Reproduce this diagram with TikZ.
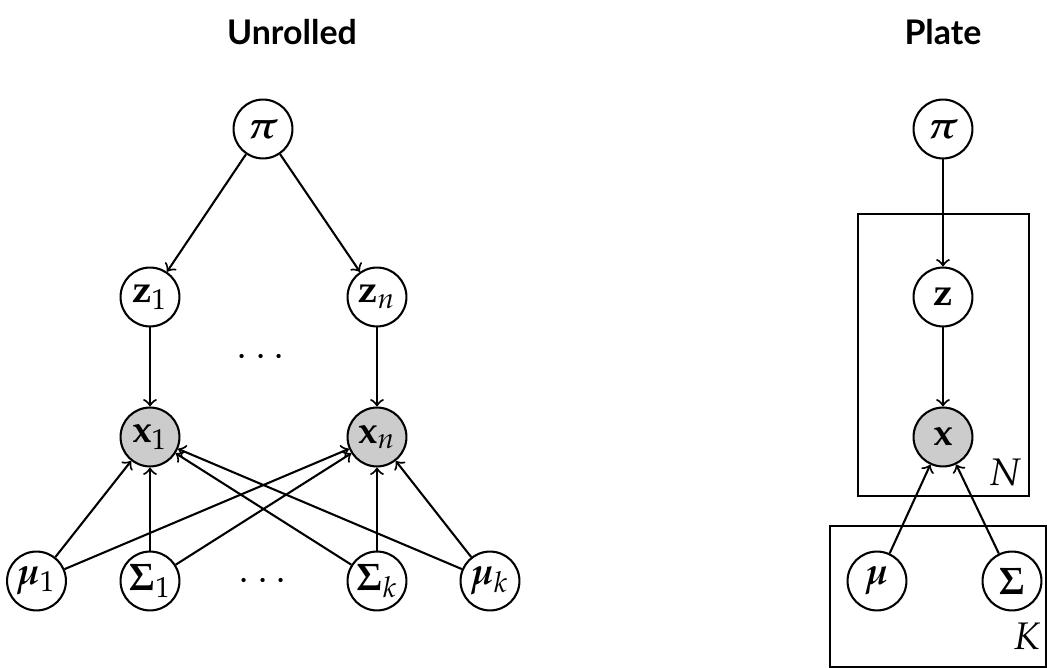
\documentclass[tikz,border=0pt]{standalone}
\usepackage{mathpazo}
\usepackage{bm}
\usepackage[no-math]{fontspec}
\newfontfamily\titlefont{Lato}
\usetikzlibrary{arrows}
\tikzset{
  rv/.style={circle,draw,line width=0.65pt,minimum size=18.4pt,inner sep=0pt,font=\large},
  obs/.style={rv,fill=black!20},
  edge/.style={->,>=to,line width=0.65pt},
  platebox/.style={draw,line width=0.65pt},
  ttl/.style={font=\fontsize{10.6}{12}\titlefont\bfseries,anchor=base},
  lbl/.style={font=\large}
}
\begin{document}
\begin{tikzpicture}[x=0.3125pt,y=-0.3125pt]
\useasboundingbox (0,0) rectangle (1047,668);
% titles
\node[ttl] (t1) at (292,45) {Unrolled};
\node[ttl] (t2) at (943,45) {Plate};
% unrolled
\node[rv] (pi) at (263,129) {$\bm{\pi}$};
\node[rv] (z1) at (150,297) {$\mathbf{z}_1$};
\node[rv] (zn) at (377,297) {$\mathbf{z}_n$};
\node[lbl] (d1) at (261,358) {$\cdots$};
\node[obs] (x1) at (150,437) {$\mathbf{x}_1$};
\node[obs] (xn) at (377,437) {$\mathbf{x}_n$};
\node[rv] (m1) at (36.5,581) {$\bm{\mu}_1$};
\node[rv] (s1) at (150,581) {$\bm{\Sigma}_1$};
\node[lbl] (d2) at (263,582) {$\cdots$};
\node[rv] (sk) at (377,581) {$\bm{\Sigma}_k$};
\node[rv] (mk) at (490,581) {$\bm{\mu}_k$};
\draw[edge] (pi) -- (z1);
\draw[edge] (pi) -- (zn);
\draw[edge] (z1) -- (x1);
\draw[edge] (zn) -- (xn);
\foreach \s in {m1,s1,sk,mk}{
  \draw[edge] (\s) -- (x1);
  \draw[edge] (\s) -- (xn);
}
% plate
\node[rv] (ppi) at (943,129) {$\bm{\pi}$};
\node[rv] (pz) at (943,297) {$\mathbf{z}$};
\node[obs] (px) at (943,437) {$\mathbf{x}$};
\node[rv] (pm) at (877,581) {$\bm{\mu}$};
\node[rv] (ps) at (1012,581) {$\bm{\Sigma}$};
\draw[edge] (ppi) -- (pz);
\draw[edge] (pz) -- (px);
\draw[edge] (pm) -- (px);
\draw[edge] (ps) -- (px);
\draw[platebox] (858,214) rectangle (1029,496);
\node[lbl] (lN) at (1005,472) {$N$};
\draw[platebox] (830,526) rectangle (1046.5,667);
\node[lbl] (lK) at (1027,636) {$K$};
\end{tikzpicture}
\end{document}
